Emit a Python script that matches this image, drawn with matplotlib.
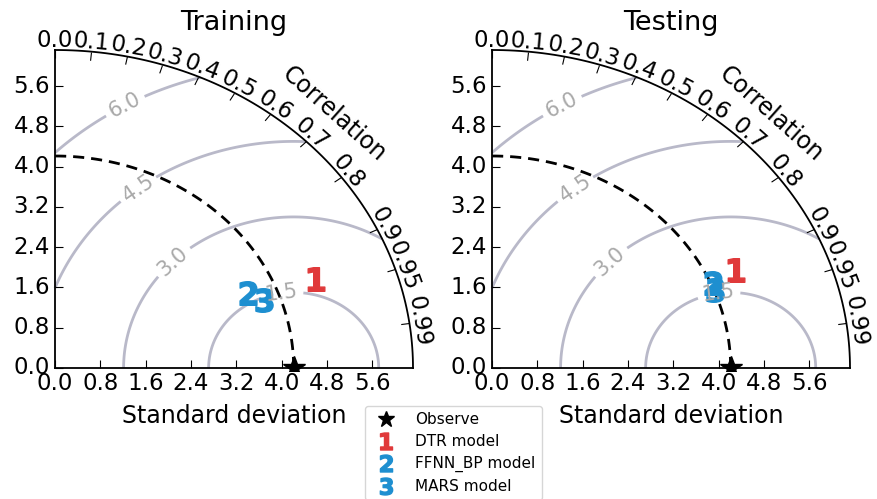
import numpy as np
import matplotlib
matplotlib.use("Agg")
import matplotlib.pyplot as plt
from matplotlib.projections import PolarAxes
import mpl_toolkits.axisartist.floating_axes as FA
import mpl_toolkits.axisartist.grid_finder as GF

# ---------------- data ----------------
titles = ["Training", "Testing"]
ref_label = "Observe"
model_names = ["DTR model", "FFNN_BP model", "MARS model"]
ref_std = [4.21, 4.21]
train_std = [4.93, 3.71, 3.92]
train_corr = [0.933, 0.916, 0.939]
test_std = [4.72, 4.24, 4.22]
test_corr = [0.911, 0.918, 0.931]
corr_ticks = [0.0, 0.1, 0.2, 0.3, 0.4, 0.5, 0.6, 0.7, 0.8, 0.9, 0.95, 0.99]
std_ticks = [0.0, 0.8, 1.6, 2.4, 3.2, 4.0, 4.8, 5.6]
rms_levels = [1.5, 3.0, 4.5, 6.0]
std_range = (0.0, 1.5)

# ---------------- style ----------------
marker_colors = ["#e0393a", "#1e8fd0", "#1e8fd0"]
contour_color = "#b9b9c9"
clabel_color = "#a9a9a9"
FS = 16.5
# approximate (x, y) spots where the RMS contour labels sit
clabel_xy = [(4.0, 1.5), (2.1, 2.1), (1.5, 3.5), (1.24, 5.2)]

W, H = 877, 499
fig = plt.figure(figsize=(W / 100, H / 100), dpi=100)
# pixel rectangle for data [0, smax] x [0, smax]: left, right, bottom, top (from image top)
panel_px = [(55, 413, 368, 50), (492, 850, 368, 50)]


def taylor(px, refstd, stds, corrs, title):
    tr = PolarAxes.PolarTransform(apply_theta_transforms=False)
    rlocs = np.array(corr_ticks)
    tlocs = np.arccos(rlocs)
    gl1 = GF.FixedLocator(tlocs)
    tf1 = GF.DictFormatter(dict(zip(tlocs, map(str, rlocs))))
    gl2 = GF.FixedLocator(std_ticks)
    tf2 = GF.DictFormatter({v: f"{v:.1f}" for v in std_ticks})
    smin = std_range[0] * refstd
    smax = std_range[1] * refstd
    gh = FA.GridHelperCurveLinear(tr, extremes=(0, np.pi / 2, smin, smax),
                                  grid_locator1=gl1, tick_formatter1=tf1,
                                  grid_locator2=gl2, tick_formatter2=tf2)
    ax = fig.add_axes([0.1, 0.1, 0.4, 0.4], axes_class=FA.FloatingAxes, grid_helper=gh)
    ax.set_aspect("auto")

    x0, x1 = ax.get_xlim()
    y0, y1 = ax.get_ylim()
    l, r, b, t = px
    sx = (r - l) / smax
    sy = (b - t) / smax
    left = l + x0 * sx
    width = (x1 - x0) * sx
    bottom = (H - b) + y0 * sy
    height = (y1 - y0) * sy
    ax.set_position([left / W, bottom / H, width / W, height / H])

    ax.axis["top"].set_axis_direction("bottom")
    ax.axis["top"].toggle(ticklabels=True, label=True)
    ax.axis["top"].major_ticklabels.set_axis_direction("top")
    ax.axis["top"].label.set_axis_direction("top")
    ax.axis["top"].label.set_text("Correlation")

    ax.axis["left"].set_axis_direction("bottom")
    ax.axis["left"].label.set_text("Standard deviation")

    ax.axis["right"].set_axis_direction("top")
    ax.axis["right"].toggle(ticklabels=True)
    ax.axis["right"].major_ticklabels.set_axis_direction("left")
    ax.axis["bottom"].set_visible(False)

    for name in ["top", "left", "right"]:
        a = ax.axis[name]
        a.major_ticklabels.set_fontsize(FS)
        a.label.set_fontsize(FS + 0.5)
        a.line.set_linewidth(1.3)
        a.major_ticks.set_ticksize(6)
        a.major_ticks.set_linewidth(1.3)
    ax.axis["top"].major_ticklabels.set_pad(2)
    ax.axis["left"].label.set_pad(10)

    aux = ax.get_aux_axes(tr)

    rs, ts = np.meshgrid(np.linspace(smin, smax, 200), np.linspace(0, np.pi / 2, 200))
    rms = np.sqrt(refstd ** 2 + rs ** 2 - 2 * refstd * rs * np.cos(ts))
    cs = aux.contour(ts, rs, rms, rms_levels, colors=contour_color, linewidths=2)
    manual = [(np.arctan2(y, x), np.hypot(x, y)) for x, y in clabel_xy]
    aux.clabel(cs, inline=1, fontsize=FS - 1.5, fmt="%.1f", colors=clabel_color,
               manual=manual)

    tt = np.linspace(0, np.pi / 2, 100)
    aux.plot(tt, np.zeros_like(tt) + refstd, "k--", lw=2, dashes=(4, 2.5))
    ref_line, = aux.plot([0], [refstd], "k*", ls="", ms=17, label=ref_label)

    handles = [ref_line]
    for i, (s, c) in enumerate(zip(stds, corrs)):
        h, = aux.plot(np.arccos(c), s, marker=r"$\mathbf{%d}$" % (i + 1), ms=17,
                      ls="", color=marker_colors[i], label=model_names[i])
        handles.append(h)

    fig.text(((l + r) / 2) / W, 1 - 23 / H, title, ha="center", va="center", fontsize=19.5)
    return handles


handles = taylor(panel_px[0], ref_std[0], train_std, train_corr, titles[0])
taylor(panel_px[1], ref_std[1], test_std, test_corr, titles[1])

fig.legend(handles, [h.get_label() for h in handles], loc="upper center",
           bbox_to_anchor=(0.517, 1 - 406 / H), borderaxespad=0, fontsize=11,
           markerscale=0.72, numpoints=1, frameon=True, handletextpad=0.9,
           labelspacing=0.45)

fig.savefig("out.png", dpi=100)
